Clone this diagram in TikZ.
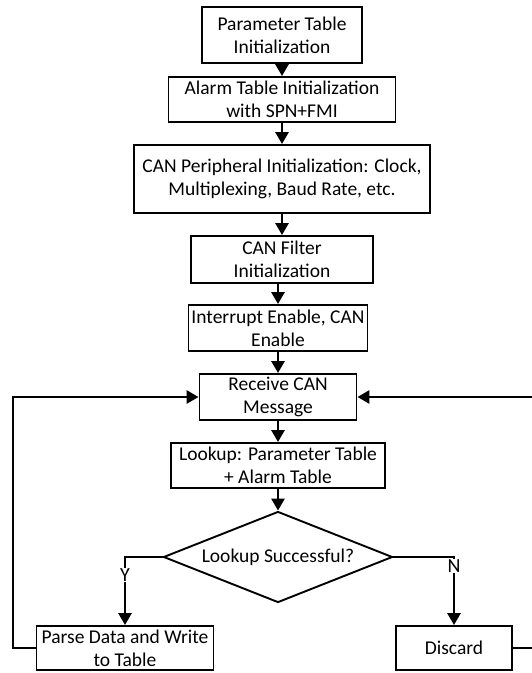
\documentclass[tikz,border=0pt]{standalone}
\usepackage{fontspec}
\setmainfont{Carlito}
\usetikzlibrary{shapes.geometric,arrows.meta}
\begin{document}
\begin{tikzpicture}[x=1pt,y=-1pt,
  box/.style={draw, line width=1.9pt, align=center, inner sep=1pt,
    font=\fontsize{19.5}{23}\selectfont},
  conn/.style={line width=2.8pt, -{Triangle[length=12pt,width=13pt]}},
  lbl/.style={fill=white, inner sep=1pt, font=\fontsize{20}{23}\selectfont}]
\useasboundingbox (0,0) rectangle (532,673);
\node[box, minimum width=160, minimum height=56] (p1) at (282,35) {Parameter Table\\Initialization};
\node[box, minimum width=227, minimum height=45] (p2) at (282,99.5) {Alarm Table Initialization\\with SPN+FMI};
\node[box, minimum width=296, minimum height=68] (p3) at (282,179) {CAN Peripheral Initialization: Clock,\\Multiplexing, Baud Rate, etc.};
\node[box, minimum width=182, minimum height=47] (p4) at (282,259.5) {CAN Filter\\Initialization};
\node[box, minimum width=179, minimum height=46] (p5) at (278,328) {Interrupt Enable, CAN\\Enable};
\node[box, minimum width=157, minimum height=46] (p6) at (278,397) {Receive CAN\\Message};
\node[box, minimum width=214, minimum height=45] (p7) at (278,465.5) {Lookup: Parameter Table\\+ Alarm Table};
\node[box, shape=diamond, aspect=2.52, inner sep=0pt, minimum width=229, minimum height=91] (dia) at (278,557) {Lookup Successful?};
\node[box, minimum width=177, minimum height=44] (parse) at (125,648) {Parse Data and Write\\to Table};
\node[box, minimum width=116, minimum height=44] (disc) at (454,648) {Discard};
\coordinate (lc) at (13,397);
\coordinate (rc) at (534,397);

\draw[conn] (p1.south) -- (p2.north -| p1.south);
\draw[conn] (p2.south -| p1.south) -- (p3.north -| p1.south);
\draw[conn] (p3.south -| p1.south) -- (p4.north -| p1.south);
\draw[conn] (p4.south -| p5.north) -- (p5.north);
\draw[conn] (p5.south) -- (p6.north);
\draw[conn] (p6.south) -- (p7.north);
\draw[conn] (p7.south) -- (dia.north);
\draw[conn] (dia.west) -| (parse.north);
\draw[conn] (dia.east) -| (disc.north);
\node[lbl] at (parse.north |- 0,575) {Y};
\node[lbl] at (disc.north |- 0,566) {N};
\draw[conn] (parse.west) -| (lc) -- (p6.west);
\draw[conn] (disc.east) -| (rc) -- (p6.east);
\end{tikzpicture}
\end{document}
